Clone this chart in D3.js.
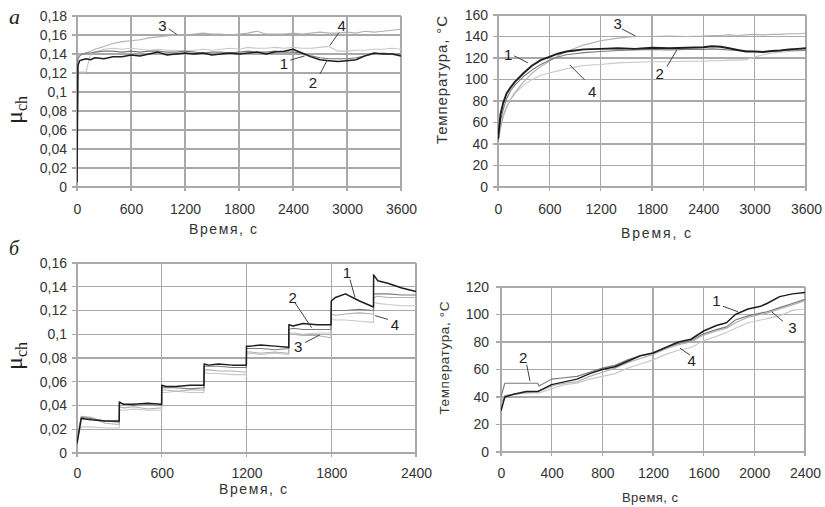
<!DOCTYPE html>
<html><head><meta charset="utf-8">
<script src="https://cdn.jsdelivr.net/npm/d3@7"></script>
<style>
html,body{margin:0;padding:0;background:#fff;}
svg{display:block;font-family:"Liberation Sans",Arial,sans-serif;}
</style></head>
<body><svg id="c" width="825" height="507"></svg>
<script>
// ---------- DATA ----------
// Panel а, left: friction coefficient vs time
const tA = [0,10,30,60,100,150,200,300,400,500,600,700,800,900,1000,1100,1200,1300,1400,1500,1600,1700,1800,1900,2000,2100,2200,2300,2400,2500,2600,2700,2800,2900,3000,3100,3200,3300,3400,3500,3600];
const muA1 = [0.005,0.128,0.133,0.134,0.135,0.134,0.136,0.135,0.137,0.137,0.139,0.138,0.140,0.142,0.139,0.140,0.141,0.140,0.141,0.139,0.140,0.141,0.140,0.141,0.142,0.140,0.142,0.143,0.145,0.141,0.137,0.134,0.133,0.132,0.133,0.134,0.138,0.141,0.140,0.140,0.138];
const muA2 = [0.005,0.135,0.138,0.140,0.141,0.141,0.142,0.143,0.143,0.142,0.143,0.142,0.143,0.143,0.142,0.142,0.143,0.142,0.141,0.142,0.142,0.141,0.142,0.143,0.142,0.142,0.143,0.142,0.142,0.141,0.138,0.136,0.135,0.135,0.135,0.136,0.138,0.140,0.141,0.140,0.140];
const muA3 = [0.005,0.138,0.140,0.140,0.141,0.143,0.145,0.148,0.151,0.153,0.154,0.155,0.157,0.158,0.159,0.160,0.160,0.161,0.162,0.161,0.161,0.160,0.161,0.162,0.164,0.161,0.161,0.161,0.162,0.161,0.162,0.163,0.162,0.162,0.163,0.162,0.164,0.163,0.164,0.165,0.166];
const muA4 = [0.005,0.120,0.121,0.121,0.121,0.140,0.142,0.145,0.146,0.145,0.146,0.145,0.144,0.145,0.144,0.144,0.143,0.144,0.145,0.144,0.145,0.146,0.145,0.147,0.146,0.146,0.147,0.146,0.147,0.146,0.146,0.147,0.148,0.143,0.143,0.144,0.144,0.145,0.145,0.146,0.145];

// Panel а, right: temperature vs time
const tB = [0,30,60,100,150,200,300,400,500,600,700,800,900,1000,1200,1400,1600,1800,2000,2200,2400,2500,2600,2700,2800,2900,3000,3100,3200,3300,3400,3500,3600];
const tempB1 = [45,68,78,87,93,98,106,113,118,121,124,126,127,128,128.5,129,128.5,129.5,129,129.5,130,131,130.5,129,127.5,126,126,125.5,126.5,127,128,128.5,129];
const tempB2 = [42,62,72,82,90,95,103,109,114,118,121,123,124,125,126,127,127.5,128,127.5,128,128,128.5,128,127.5,127,126.5,126,126,126.5,127,127,127.5,127];
const tempB3 = [40,55,65,74,82,88,98,106,112,117,122,126,129,132,136,138.5,140,140,140.5,140,140.5,141,141,141.5,141,141.5,142,141.5,142,142,142.5,142.5,143];
const tempB4 = [40,58,67,75,82,87,95,100,104,106,108,110,111.5,113,114,115.5,116,116.5,116.5,117,117,117.5,117.5,118,118,118.5,121,123,124.5,125.5,126,126.5,127];

// Panel б, left: friction coefficient under stepwise loading
const tC = [0,30,100,200,299, 300,330,400,500,599, 600,630,700,800,899, 900,930,1000,1100,1199, 1200,1230,1300,1400,1499, 1500,1530,1600,1700,1799, 1800,1830,1900,2000,2099, 2100,2130,2200,2300,2400];
const muC1 = [0.008,0.029,0.028,0.027,0.027, 0.043,0.041,0.041,0.042,0.041, 0.057,0.056,0.056,0.057,0.057, 0.075,0.074,0.075,0.074,0.074, 0.090,0.090,0.091,0.090,0.089, 0.108,0.107,0.109,0.108,0.108, 0.128,0.131,0.134,0.128,0.123, 0.150,0.145,0.143,0.139,0.136];
const muC2 = [0.010,0.030,0.029,0.027,0.026, 0.042,0.041,0.040,0.041,0.040, 0.055,0.055,0.055,0.054,0.055, 0.073,0.073,0.073,0.072,0.072, 0.088,0.088,0.088,0.087,0.088, 0.104,0.105,0.104,0.104,0.104, 0.120,0.120,0.120,0.121,0.120, 0.134,0.134,0.134,0.133,0.133];
const muC3 = [0.012,0.031,0.030,0.025,0.024, 0.039,0.038,0.039,0.037,0.038, 0.053,0.053,0.052,0.053,0.053, 0.070,0.070,0.069,0.069,0.068, 0.085,0.085,0.084,0.085,0.084, 0.100,0.100,0.099,0.099,0.097, 0.117,0.116,0.117,0.118,0.117, 0.131,0.132,0.131,0.131,0.131];
const muC4 = [0.012,0.022,0.022,0.021,0.021, 0.036,0.036,0.037,0.036,0.036, 0.051,0.051,0.052,0.051,0.051, 0.068,0.067,0.067,0.066,0.066, 0.083,0.084,0.083,0.084,0.083, 0.101,0.101,0.100,0.101,0.101, 0.113,0.112,0.112,0.111,0.110, 0.127,0.126,0.125,0.124,0.124];

// Panel б, right: temperature under stepwise loading
const tD = [0,30,100,200,290,300,400,500,600,700,800,900,1000,1100,1200,1300,1400,1500,1600,1700,1780,1850,1950,2050,2100,2200,2300,2400];
const tempD1 = [30,40,42,44,44,44.5,49,51,53,57,60,62,66,70,72,76,80,82,88,92,94,100,104,106,108,113,115,116];
const tempD2 = [40,50,50,50,50,48,53,54,55,58,61,63,67,70,72,76,79,81,86,89,91,96,99,101,102,105,108,111];
const tempD3 = [35,41,42,43,44,44,48,50,51,55,58,61,65,68,71,75,78,80,85,88,90,94,98,100,101,104,107,110];
const tempD4 = [35,41,42,43,43,43,46,49,50,53,55,57,61,64,67,71,74,76,81,84,87,90,94,96,97,99,103,104];

// Tick values
const ticksMuA = [0,0.02,0.04,0.06,0.08,0.1,0.12,0.14,0.16,0.18];
const ticksTimeA = [0,600,1200,1800,2400,3000,3600];
const ticksTempB = [0,20,40,60,80,100,120,140,160];
const ticksMuC = [0,0.02,0.04,0.06,0.08,0.1,0.12,0.14,0.16];
const ticksTimeC = [0,600,1200,1800,2400];
const ticksTempD = [0,20,40,60,80,100,120];
const ticksTimeD = [0,400,800,1200,1600,2000,2400];

// Curve number callouts: [label, textT, textV, lineT1, lineV1, lineT2, lineV2]
const notesA = [["3",950,0.1705,1020,0.1665,1110,0.1605],["4",2940,0.1705,2910,0.1625,2810,0.149],["1",2300,0.1295,2370,0.1335,2530,0.138],["2",2620,0.1105,2700,0.119,2780,0.1335]];
const notesB = [["1",120,123,190,122,350,115.5],["3",1400,152.5,1450,147,1607,140.5],["2",1890,106,1975,112,2090,127.5],["4",1100,89,1014,99.5,840,113.5]];
const notesC = [["1",1911,0.152,1933,0.146,1968,0.131],["2",1527,0.131,1543,0.1265,1661,0.1055],["3",1565,0.0895,1614,0.093,1720,0.0995],["4",2250,0.1085,2202,0.1125,2110,0.1157]];
const notesD = [["1",1700,110,1752,106,1871,102],["3",2300,90.5,2226,95,2137,102],["2",176,69,203,63.5,229,51.5],["4",1505,66.5,1492,70.5,1413,75.5]];

// ---------- DRAW ----------
const svg = d3.select("#c");
const fmt = d => String(d).replace(".", ",");
const seriesStyle = [
  {color:"#1e1e1e", width:1.5},
  {color:"#7a7a7a", width:1.1},
  {color:"#b0b0b0", width:1.1},
  {color:"#c8c8c8", width:1.1}
];
const gridColor = "#a9a9a9";
const textColor = "#333";

function panel(cfg){
  const x = d3.scaleLinear().domain(cfg.xDomain).range([cfg.x0, cfg.x1]);
  const y = d3.scaleLinear().domain(cfg.yDomain).range([cfg.y0, cfg.y1]);
  const g = svg.append("g");
  // grid
  g.append("g").selectAll("line").data(cfg.yTicks).join("line")
    .attr("x1", cfg.x0-5).attr("x2", cfg.x1).attr("y1", d=>y(d)).attr("y2", d=>y(d))
    .attr("stroke", gridColor).attr("stroke-width", 1.2).attr("shape-rendering","crispEdges");
  g.append("g").selectAll("line").data(cfg.xTicks).join("line")
    .attr("x1", d=>x(d)).attr("x2", d=>x(d)).attr("y1", cfg.y0+4).attr("y2", cfg.y1)
    .attr("stroke", gridColor).attr("stroke-width", 1.2).attr("shape-rendering","crispEdges");
  // y axis labels
  const yAx = d3.axisLeft(y).tickValues(cfg.yTicks).tickFormat(cfg.yFmt).tickSize(0).tickPadding(0);
  const ya = g.append("g").attr("transform", `translate(${cfg.yLabelRight},0)`).call(yAx);
  ya.select(".domain").remove();
  ya.selectAll("text").attr("font-size", 14).attr("fill", textColor).attr("font-family","Liberation Sans, Arial, sans-serif");
  const xAx = d3.axisBottom(x).tickValues(cfg.xTicks).tickFormat(d=>d).tickSize(0).tickPadding(0);
  const xa = g.append("g").attr("transform", `translate(0,${cfg.xLabelY})`).call(xAx);
  xa.select(".domain").remove();
  xa.selectAll("text").attr("font-size", 14).attr("fill", textColor).attr("dy", "0").attr("font-family","Liberation Sans, Arial, sans-serif");
  // series
  const clipId = "clip" + cfg.id;
  svg.append("clipPath").attr("id", clipId).append("rect")
    .attr("x", cfg.x0).attr("y", cfg.y1-2).attr("width", cfg.x1-cfg.x0+1).attr("height", cfg.y0-cfg.y1+3);
  const line = d3.line().x(d=>x(d[0])).y(d=>y(d[1]));
  const sg = g.append("g").attr("clip-path", `url(#${clipId})`);
  cfg.series.slice().reverse().forEach((vals, ri) => {
    const i = cfg.series.length-1-ri;
    sg.append("path").datum(cfg.t.map((t,k)=>[t, vals[k]]))
      .attr("d", line).attr("fill","none")
      .attr("stroke", seriesStyle[i].color).attr("stroke-width", seriesStyle[i].width*(cfg.blackBoost && i===0?1.3:1))
      .attr("stroke-linejoin","round");
  });
  // callouts
  cfg.notes.forEach(n => {
    g.append("line").attr("x1", x(n[3])).attr("y1", y(n[4])).attr("x2", x(n[5])).attr("y2", y(n[6]))
      .attr("stroke", "#444").attr("stroke-width", 1);
    g.append("text").attr("x", x(n[1])).attr("y", y(n[2])).attr("text-anchor","middle")
      .attr("dominant-baseline","central").attr("font-size", 15).attr("fill", "#222").text(n[0]);
  });
  // x title
  g.append("text").attr("x", cfg.xTitle[0]).attr("y", cfg.xTitle[1]).attr("text-anchor","middle")
    .attr("dominant-baseline","central").attr("font-size", cfg.xTitle[3]).attr("fill", textColor)
    .attr("textLength", cfg.xTitle[2]).attr("lengthAdjust","spacing").text("Время, с");
  // y title
  if (cfg.yTitleMu) {
    const t = g.append("text").attr("transform", `translate(${cfg.yTitleMu[0]},${cfg.yTitleMu[1]}) rotate(-90)`)
      .attr("text-anchor","middle").attr("font-family","Liberation Serif, Times New Roman, serif").attr("fill","#222");
    t.append("tspan").attr("font-size", 24).text("μ");
    t.append("tspan").attr("font-size", 16).attr("dy", 5).text("ch");
  } else {
    g.append("text").attr("transform", `translate(${cfg.yTitle[0]},${cfg.yTitle[1]}) rotate(-90)`)
      .attr("text-anchor","middle").attr("dominant-baseline","central").attr("font-size", cfg.yTitle[3]).attr("fill", textColor)
      .attr("textLength", cfg.yTitle[2]).attr("lengthAdjust","spacing").text("Температура, °С");
  }
}

panel({id:"A", xDomain:[0,3600], yDomain:[0,0.18], x0:77, x1:401, y0:187, y1:16,
  xTicks:ticksTimeA, yTicks:ticksMuA, yFmt:fmt, yLabelRight:67, xLabelY:214,
  t:tA, series:[muA1,muA2,muA3,muA4], notes:notesA, xTitle:[223,229,68,14], yTitleMu:[22,110]});
panel({id:"B", xDomain:[0,3600], yDomain:[0,160], x0:498, x1:806, y0:187, y1:15,
  xTicks:ticksTimeA, yTicks:ticksTempB, yFmt:d=>d, yLabelRight:488, xLabelY:214, blackBoost:true,
  t:tB, series:[tempB1,tempB2,tempB3,tempB4], notes:notesB, xTitle:[656,233,70,14], yTitle:[441,80,128,15]});
panel({id:"C", xDomain:[0,2400], yDomain:[0,0.16], x0:77, x1:416, y0:453, y1:263,
  xTicks:ticksTimeC, yTicks:ticksMuC, yFmt:fmt, yLabelRight:67, xLabelY:478,
  t:tC, series:[muC1,muC2,muC3,muC4], notes:notesC, xTitle:[253,489,68,14], yTitleMu:[22,356]});
panel({id:"D", xDomain:[0,2400], yDomain:[0,120], x0:501, x1:805, y0:452, y1:287,
  xTicks:ticksTimeD, yTicks:ticksTempD, yFmt:d=>d, yLabelRight:489, xLabelY:478,
  t:tD, series:[tempD1,tempD2,tempD3,tempD4], notes:notesD, xTitle:[650,497,56,13], yTitle:[444,358,113,13.5]});

// panel letters
svg.append("text").attr("x", 9).attr("y", 24).attr("font-family","Liberation Serif, Times New Roman, serif")
  .attr("font-style","italic").attr("font-size", 22).attr("fill","#222").text("а");
svg.append("text").attr("x", 9).attr("y", 255).attr("font-family","Liberation Serif, Times New Roman, serif")
  .attr("font-style","italic").attr("font-size", 20).attr("fill","#222").text("б");
</script></body></html>
